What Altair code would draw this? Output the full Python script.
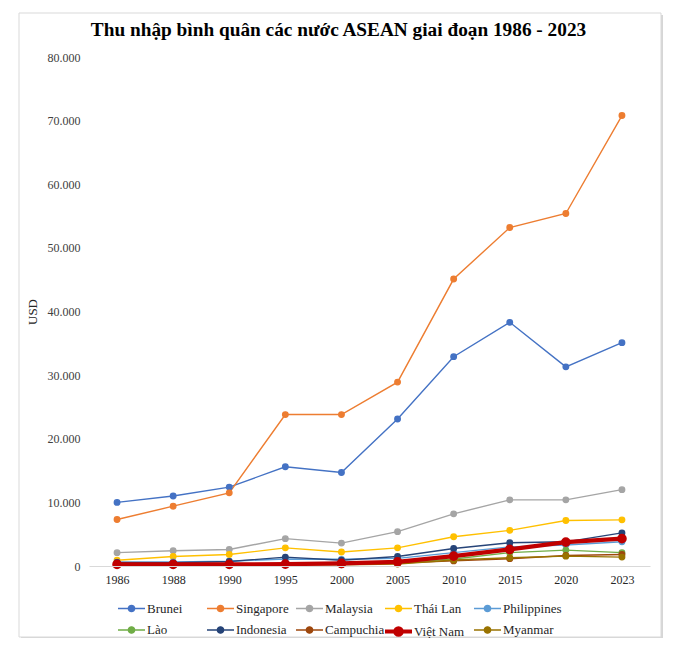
import altair as alt
import pandas as pd

years = ["1986", "1988", "1990", "1995", "2000", "2005", "2010", "2015", "2020", "2023"]
countries = ["Brunei", "Singapore", "Malaysia", "Thái Lan", "Philippines",
             "Lào", "Indonesia", "Campuchia", "Việt Nam", "Myanmar"]
colors = ["#4472C4", "#ED7D31", "#A5A5A5", "#FFC000", "#5B9BD5",
          "#70AD47", "#264478", "#9E480E", "#C00000", "#997300"]
widths = [1.4, 1.4, 1.4, 1.4, 1.4, 1.4, 1.4, 1.4, 4.2, 1.4]

brunei = [10000, 11000, 12400, 15600, 14700, 23100, 32900, 38300, 31300, 35100]
singapore = [7300, 9400, 11500, 23800, 23800, 28900, 45100, 53200, 55400, 70800]
malaysia = [2100, 2400, 2600, 4300, 3600, 5400, 8200, 10400, 10400, 12000]
thailan = [900, 1500, 1800, 2850, 2200, 2850, 4600, 5600, 7150, 7250]
philippines = [600, 650, 750, 1100, 1050, 1200, 2100, 3000, 3300, 3800]
lao = [300, 250, 250, 350, 300, 500, 1100, 2100, 2500, 2100]
indonesia = [550, 500, 700, 1400, 900, 1500, 2750, 3650, 3800, 5200]
campuchia = [150, 150, 200, 300, 300, 450, 800, 1150, 1650, 1800]
vietnam = [250, 250, 250, 300, 400, 650, 1550, 2600, 3750, 4300]
myanmar = [200, 200, 200, 200, 200, 300, 950, 1300, 1550, 1400]

series = [brunei, singapore, malaysia, thailan, philippines,
          lao, indonesia, campuchia, vietnam, myanmar]

rows = []
for c, vals in zip(countries, series):
    for yv, v in zip(years, vals):
        rows.append({"Country": c, "Year": yv, "Value": v})
df = pd.DataFrame(rows)

FONT = "Liberation Serif"
sym_path = ("M-1.93,0H1.93M0.45,0A0.45,0.45,0,1,1,-0.45,0"
            "A0.45,0.45,0,1,1,0.45,0Z")

legend_def = alt.Legend(
    title=None, orient="none", legendX=33, legendY=540, columns=5,
    direction="horizontal",
    symbolType=sym_path, symbolSize=196, symbolOpacity=1,
    labelFont=FONT, labelFontSize=13, labelColor="#262626",
    labelOffset=6, gridAlign="all", columnPadding=-9, rowPadding=0,
    padding=0,
)

stroke_scale = alt.Scale(domain=countries, range=colors)
fill_scale = alt.Scale(domain=countries, range=colors)
sw_scale = alt.Scale(type="ordinal", domain=countries, range=widths)

x_enc = alt.X("Year:N", sort=years, title=None,
              scale=alt.Scale(type="point", padding=0.5),
              axis=alt.Axis(labelAngle=0, ticks=False, domainColor="#D9D9D9",
                            domainWidth=1, labelFont=FONT, labelFontSize=12,
                            labelColor="#262626", labelPadding=8, grid=False,
                            zindex=1))
y_enc = alt.Y("Value:Q", title="USD",
              scale=alt.Scale(domain=[0, 80000], nice=False),
              axis=alt.Axis(values=list(range(0, 80001, 10000)),
                            labelExpr="replace(format(datum.value, ','), ',', '.')",
                            domain=False, ticks=False, grid=False,
                            labelFont=FONT, labelFontSize=12, labelColor="#404040",
                            labelPadding=9, titleFont=FONT, titleFontSize=13,
                            titleFontWeight="normal", titleColor="#262626",
                            titlePadding=8, zindex=1))

frame_df = pd.DataFrame({"k": [0]})
shadow = alt.Chart(frame_df).mark_rect(fill="#D6D6D6", clip=False).encode(
    x=alt.value(-68), x2=alt.value(574), y=alt.value(-42), y2=alt.value(582))
frame = alt.Chart(frame_df).mark_rect(fill="white", stroke="#D9D9D9",
                                      strokeWidth=1, clip=False).encode(
    x=alt.value(-70), x2=alt.value(572), y=alt.value(-44), y2=alt.value(580))

base = alt.Chart(df)
others = base.transform_filter("datum.Country !== 'Việt Nam'")
vn = base.transform_filter("datum.Country === 'Việt Nam'")

def lines(b):
    return b.mark_line(opacity=1).encode(
        x=x_enc, y=y_enc,
        stroke=alt.Stroke("Country:N", scale=stroke_scale, legend=legend_def),
        strokeWidth=alt.StrokeWidth("Country:N", scale=sw_scale, legend=legend_def),
    )

def points(b):
    return b.mark_point(filled=True, shape="circle", size=30, opacity=1).encode(
        x=x_enc, y=y_enc,
        fill=alt.Fill("Country:N", scale=fill_scale, legend=legend_def),
        stroke=alt.Stroke("Country:N", scale=stroke_scale, legend=legend_def),
        strokeWidth=alt.StrokeWidth("Country:N", scale=sw_scale, legend=legend_def),
    )

chart = alt.layer(
    shadow, frame,
    lines(others), points(others), lines(vn), points(vn),
).properties(
    width=561, height=509,
    padding={"left": 81, "top": 49, "right": 18, "bottom": 72},
    autosize=alt.AutoSizeParams(type="none"),
    title=alt.Title("Thu nhập bình quân các nước ASEAN giai đoạn 1986 - 2023",
                    font=FONT, fontSize=19.3, fontWeight="bold", color="black",
                    anchor="middle", dx=-31, offset=-28),
).configure_view(stroke=None).configure(
    background="white", font=FONT
).configure_axis(labelFont=FONT, titleFont=FONT).configure_legend(labelFont=FONT)

chart.save("out.html", embed_options={"renderer": "svg", "actions": False})
